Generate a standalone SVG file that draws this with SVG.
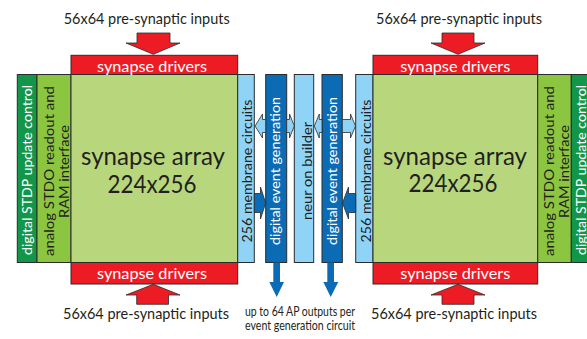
<svg xmlns="http://www.w3.org/2000/svg" width="587" height="339" viewBox="0 0 587 339">
<style>
.col{stroke:#2b2b2b;stroke-width:1}
.dg{fill:#12964a}
.lg{fill:#8cc540}
.sa{fill:#b8d77d}
.rd{fill:#ed1c24}
.lb{fill:#8fd4f6}
.db{fill:#0b6cb5}
.arr{stroke:#2b2b2b;stroke-width:0.8}
.t{font-family:Lato,"Open Sans","DejaVu Sans",sans-serif;fill:#231f20}
.w{fill:#ffffff}
.lbl{font-size:16px}
.drv{font-size:15px}
.big{font-size:25px}
.v{font-size:14px}
.sm{font-size:12.5px}
</style>
<rect width="587" height="339" fill="#ffffff"/>
<g id="left-stdp-control">
<rect class="col dg" x="17.3" y="74.5" width="19.7" height="188"/>
<text class="t w v" text-anchor="middle" textLength="170" lengthAdjust="spacingAndGlyphs" transform="translate(31.7,170) rotate(-90)">digital STDP update control</text>
</g>
<g id="left-stdo-readout">
<rect class="col lg" x="37" y="74.5" width="34" height="188"/>
<text class="t v" text-anchor="middle" textLength="170" lengthAdjust="spacingAndGlyphs" transform="translate(54,171) rotate(-90)">analog STDO readout and</text>
<text class="t v" text-anchor="middle" textLength="93" lengthAdjust="spacingAndGlyphs" transform="translate(68.8,171.5) rotate(-90)">RAM interface</text>
</g>
<g id="left-synapse-array">
<rect class="col sa" x="71" y="74.5" width="166.7" height="188"/>
<text class="t big" x="153" y="164.5" text-anchor="middle" textLength="144" lengthAdjust="spacingAndGlyphs">synapse array</text>
<text class="t big" x="152" y="192.5" text-anchor="middle" textLength="89" lengthAdjust="spacingAndGlyphs">224x256</text>
</g>
<g id="left-drivers-top">
<rect class="col rd" x="71" y="55.3" width="166.7" height="19.2"/>
<text class="t w drv" x="152" y="71.5" text-anchor="middle" textLength="110" lengthAdjust="spacingAndGlyphs">synapse drivers</text>
</g>
<g id="left-drivers-bottom">
<rect class="col rd" x="71" y="262.5" width="166.7" height="21.5"/>
<text class="t w drv" x="152" y="279" text-anchor="middle" textLength="110" lengthAdjust="spacingAndGlyphs">synapse drivers</text>
</g>
<g id="left-membrane">
<rect class="col lb" x="237.7" y="74.5" width="16.6" height="188"/>
<text class="t v" text-anchor="middle" textLength="143" lengthAdjust="spacingAndGlyphs" transform="translate(252.3,171) rotate(-90)">256 membrane circuits</text>
</g>
<g id="left-event-generation">
<rect class="col db" x="265.7" y="74.5" width="21" height="188"/>
<text class="t w v" text-anchor="middle" textLength="148" lengthAdjust="spacingAndGlyphs" transform="translate(280,171) rotate(-90)">digital event generation</text>
</g>
<g id="neuron-builder">
<rect class="col lb" x="294.3" y="74.5" width="19.4" height="188"/>
<text class="t v" text-anchor="middle" textLength="98" lengthAdjust="spacingAndGlyphs" transform="translate(312,171) rotate(-90)">neur on builder</text>
</g>
<g id="right-event-generation">
<rect class="col db" x="322" y="74.5" width="20.3" height="188"/>
<text class="t w v" text-anchor="middle" textLength="148" lengthAdjust="spacingAndGlyphs" transform="translate(336.8,171) rotate(-90)">digital event generation</text>
</g>
<g id="right-membrane">
<rect class="col lb" x="355.7" y="74.5" width="17.3" height="188"/>
<text class="t v" text-anchor="middle" textLength="143" lengthAdjust="spacingAndGlyphs" transform="translate(370.8,171) rotate(-90)">256 membrane circuits</text>
</g>
<g id="right-synapse-array">
<rect class="col sa" x="373" y="74.5" width="164.7" height="188"/>
<text class="t big" x="455" y="164.5" text-anchor="middle" textLength="144" lengthAdjust="spacingAndGlyphs">synapse array</text>
<text class="t big" x="453" y="192" text-anchor="middle" textLength="89" lengthAdjust="spacingAndGlyphs">224x256</text>
</g>
<g id="right-drivers-top">
<rect class="col rd" x="373" y="55.3" width="164.7" height="19.2"/>
<text class="t w drv" x="455.3" y="71.5" text-anchor="middle" textLength="110" lengthAdjust="spacingAndGlyphs">synapse drivers</text>
</g>
<g id="right-drivers-bottom">
<rect class="col rd" x="373" y="262.5" width="164.7" height="21.5"/>
<text class="t w drv" x="455.3" y="279" text-anchor="middle" textLength="110" lengthAdjust="spacingAndGlyphs">synapse drivers</text>
</g>
<g id="right-stdo-readout">
<rect class="col lg" x="537.7" y="74.5" width="33.6" height="188"/>
<text class="t v" text-anchor="middle" textLength="170" lengthAdjust="spacingAndGlyphs" transform="translate(554.3,171) rotate(-90)">analog STDO readout and</text>
<text class="t v" text-anchor="middle" textLength="93" lengthAdjust="spacingAndGlyphs" transform="translate(569.3,171.5) rotate(-90)">RAM interface</text>
</g>
<g id="right-stdp-control">
<rect class="col dg" x="571.3" y="74.5" width="20" height="188"/>
<text class="t w v" text-anchor="middle" textLength="170" lengthAdjust="spacingAndGlyphs" transform="translate(585.5,170) rotate(-90)">digital STDP update control</text>
</g>
<g id="connectors">
<polygon class="arr rd" points="137,33 170,33 170,43 180,43 153.3,54.3 126,43 137,43"/>
<polygon class="arr rd" points="442,33 474,33 474,43 485,43 458,54.3 431,43 442,43"/>
<polygon class="arr rd" points="153.3,284.3 180,295 168.5,295 168.5,304.3 136.7,304.3 136.7,295 126,295"/>
<polygon class="arr rd" points="458,284.3 485,295 474,295 474,304.3 442,304.3 442,295 431,295"/>
<polygon class="arr lb" points="255,126 262.5,114 262.5,119.5 265.7,119.5 265.7,132.5 262.5,132.5 262.5,138"/>
<polygon class="arr lb" points="294.3,126 289.5,114 289.5,119.5 286.7,119.5 286.7,132.5 289.5,132.5 289.5,138"/>
<polygon class="arr lb" points="314.3,126 319.3,114 319.3,119.5 322,119.5 322,132.5 319.3,132.5 319.3,138"/>
<polygon class="arr lb" points="355.5,126 350.5,114 350.5,119.5 342.3,119.5 342.3,132.5 350.5,132.5 350.5,138"/>
<polygon class="arr db" points="265.7,203 260.5,187 260.5,193.5 254.3,193.5 254.3,212.5 260.5,212.5 260.5,219"/>
<polygon class="arr db" points="342.5,203 348.5,187 348.5,193.5 355.7,193.5 355.7,212.5 348.5,212.5 348.5,219"/>
<polygon class="db" points="273.3,262.5 280,262.5 280,282 284,282 276.7,297 269.3,282 273.3,282"/>
<polygon class="db" points="327.3,262.5 334,262.5 334,282 338.3,282 330.7,297 323.3,282 327.3,282"/>
</g>
<g id="labels">
<text class="t lbl" x="146.7" y="24" text-anchor="middle" textLength="166" lengthAdjust="spacingAndGlyphs">56x64 pre-synaptic inputs</text>
<text class="t lbl" x="459" y="24" text-anchor="middle" textLength="166" lengthAdjust="spacingAndGlyphs">56x64 pre-synaptic inputs</text>
<text class="t lbl" x="146" y="319" text-anchor="middle" textLength="166" lengthAdjust="spacingAndGlyphs">56x64 pre-synaptic inputs</text>
<text class="t lbl" x="454" y="319" text-anchor="middle" textLength="166" lengthAdjust="spacingAndGlyphs">56x64 pre-synaptic inputs</text>
<text class="t sm" x="300" y="316" text-anchor="middle" textLength="110" lengthAdjust="spacingAndGlyphs">up to 64 AP outputs per</text>
<text class="t sm" x="300" y="330" text-anchor="middle" textLength="110" lengthAdjust="spacingAndGlyphs">event generation circuit</text>
</g>
</svg>
